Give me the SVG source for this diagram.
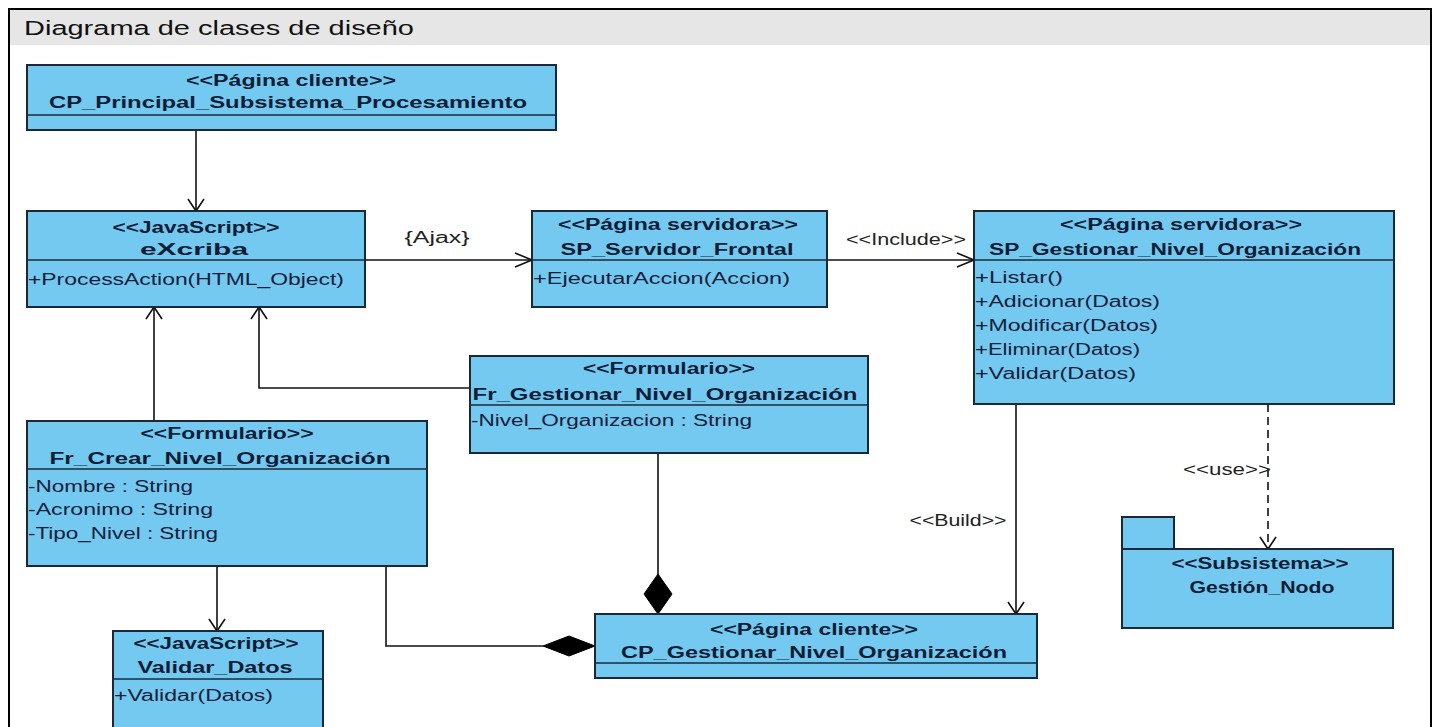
<svg xmlns="http://www.w3.org/2000/svg" width="1438" height="727" viewBox="0 0 1438 727">
  <style>
    .cls { fill: #74c9f1; stroke: #1b2838; stroke-width: 2; }
    .sep { stroke: #1b2838; stroke-width: 1.6; fill: none; }
    .st { font-family: "Liberation Sans", Arial, sans-serif; font-size: 16px; font-weight: bold; fill: #0e1d36; text-anchor: middle; }
    .mem { font-family: "Liberation Sans", Arial, sans-serif; font-size: 16px; fill: #14203a; }
    .lbl { font-family: "Liberation Sans", Arial, sans-serif; font-size: 16px; fill: #222; text-anchor: middle; }
    .edge { stroke: #111; stroke-width: 1.6; fill: none; }
    .dash { stroke: #111; stroke-width: 1.6; fill: none; stroke-dasharray: 8 5; }
    .head { stroke: #111; stroke-width: 1.6; fill: none; }
    .dia { fill: #000; stroke: #000; stroke-width: 1; }
  </style>

  <!-- frame -->
  <rect x="0" y="0" width="1438" height="727" fill="#fff"/>
  <rect x="9" y="9" width="1422" height="36" fill="#e6e6e6"/>
  <rect x="9" y="9" width="1422" height="740" fill="none" stroke="#000" stroke-width="2"/>
  <text x="24" y="35" font-family="Liberation Sans, Arial, sans-serif" font-size="20" fill="#111" textLength="390" lengthAdjust="spacingAndGlyphs">Diagrama de clases de diseño</text>

  <!-- connectors -->
  <g id="connectors">
    <!-- CP_Principal -> eXcriba -->
    <path class="edge" d="M196 130 V211"/>
    <polyline class="head" points="188,199 196,211 204,199"/>
    <!-- Fr_Crear -> eXcriba -->
    <path class="edge" d="M154 421 V307"/>
    <polyline class="head" points="146,319 154,307 162,319"/>
    <!-- Fr_Gestionar -> eXcriba -->
    <path class="edge" d="M470 388 H259 V307"/>
    <polyline class="head" points="251,319 259,307 267,319"/>
    <!-- eXcriba -> SP_Servidor_Frontal {Ajax} -->
    <path class="edge" d="M365 260 H532"/>
    <polyline class="head" points="515,253 532,260 515,267"/>
    <text class="lbl" x="437" y="243" textLength="65" lengthAdjust="spacingAndGlyphs">{Ajax}</text>
    <!-- SP_Servidor_Frontal -> SP_Gestionar <<Include>> -->
    <path class="edge" d="M827 260 H974"/>
    <polyline class="head" points="957,253 974,260 957,267"/>
    <text class="lbl" x="906" y="245" textLength="120" lengthAdjust="spacingAndGlyphs">&lt;&lt;Include&gt;&gt;</text>
    <!-- SP_Gestionar -> CP_Gestionar <<Build>> -->
    <path class="edge" d="M1016 404 V614"/>
    <polyline class="head" points="1008,602 1016,614 1024,602"/>
    <text class="lbl" x="958" y="526" textLength="97" lengthAdjust="spacingAndGlyphs">&lt;&lt;Build&gt;&gt;</text>
    <!-- SP_Gestionar -> Gestion_Nodo <<use>> -->
    <path class="dash" d="M1268 404 V549"/>
    <polyline class="head" points="1260,537 1268,549 1276,537"/>
    <text class="lbl" x="1227" y="475" textLength="88" lengthAdjust="spacingAndGlyphs">&lt;&lt;use&gt;&gt;</text>
    <!-- Fr_Crear -> Validar_Datos -->
    <path class="edge" d="M217 566 V631"/>
    <polyline class="head" points="209,619 217,631 225,619"/>
    <!-- Fr_Crear composition CP_Gestionar -->
    <path class="edge" d="M386 566 V646 H543"/>
    <polygon class="dia" points="543,646 569,636 595,646 569,656"/>
    <!-- Fr_Gestionar composition CP_Gestionar -->
    <path class="edge" d="M658 453 V574"/>
    <polygon class="dia" points="658,574 672,594 658,614 644,594"/>
  </g>

  <g id="cp-principal">
    <rect class="cls" x="27" y="65" width="529" height="65"/>
    <line class="sep" x1="27" y1="115" x2="556" y2="115"/>
    <text class="st" x="291" y="86" textLength="210" lengthAdjust="spacingAndGlyphs">&lt;&lt;Página cliente&gt;&gt;</text>
    <text class="st" x="288" y="108" textLength="478" lengthAdjust="spacingAndGlyphs">CP_Principal_Subsistema_Procesamiento</text>
  </g>

  <g id="excriba">
    <rect class="cls" x="27" y="211" width="338" height="96"/>
    <line class="sep" x1="27" y1="260" x2="365" y2="260"/>
    <text class="st" x="196" y="233" textLength="167" lengthAdjust="spacingAndGlyphs">&lt;&lt;JavaScript&gt;&gt;</text>
    <text class="st" x="194" y="255" textLength="108" lengthAdjust="spacingAndGlyphs">eXcriba</text>
    <text class="mem" x="28" y="285" textLength="316" lengthAdjust="spacingAndGlyphs">+ProcessAction(HTML_Object)</text>
  </g>

  <g id="sp-servidor-frontal">
    <rect class="cls" x="532" y="211" width="295" height="96"/>
    <line class="sep" x1="532" y1="260" x2="827" y2="260"/>
    <text class="st" x="678" y="230" textLength="240" lengthAdjust="spacingAndGlyphs">&lt;&lt;Página servidora&gt;&gt;</text>
    <text class="st" x="677" y="255" textLength="233" lengthAdjust="spacingAndGlyphs">SP_Servidor_Frontal</text>
    <text class="mem" x="533" y="284" textLength="257" lengthAdjust="spacingAndGlyphs">+EjecutarAccion(Accion)</text>
  </g>

  <g id="sp-gestionar">
    <rect class="cls" x="974" y="211" width="420" height="193"/>
    <line class="sep" x1="974" y1="260" x2="1394" y2="260"/>
    <text class="st" x="1181" y="230" textLength="242" lengthAdjust="spacingAndGlyphs">&lt;&lt;Página servidora&gt;&gt;</text>
    <text class="st" x="1175" y="255" textLength="372" lengthAdjust="spacingAndGlyphs">SP_Gestionar_Nivel_Organización</text>
    <text class="mem" x="975" y="283" textLength="88" lengthAdjust="spacingAndGlyphs">+Listar()</text>
    <text class="mem" x="975" y="307" textLength="185" lengthAdjust="spacingAndGlyphs">+Adicionar(Datos)</text>
    <text class="mem" x="975" y="331" textLength="183" lengthAdjust="spacingAndGlyphs">+Modificar(Datos)</text>
    <text class="mem" x="975" y="355" textLength="165" lengthAdjust="spacingAndGlyphs">+Eliminar(Datos)</text>
    <text class="mem" x="975" y="379" textLength="161" lengthAdjust="spacingAndGlyphs">+Validar(Datos)</text>
  </g>

  <g id="fr-gestionar">
    <rect class="cls" x="470" y="356" width="398" height="97"/>
    <line class="sep" x1="470" y1="405" x2="868" y2="405"/>
    <text class="st" x="669" y="374" textLength="172" lengthAdjust="spacingAndGlyphs">&lt;&lt;Formulario&gt;&gt;</text>
    <text class="st" x="665" y="400" textLength="385" lengthAdjust="spacingAndGlyphs">Fr_Gestionar_Nivel_Organización</text>
    <text class="mem" x="471" y="426" textLength="281" lengthAdjust="spacingAndGlyphs">-Nivel_Organizacion : String</text>
  </g>

  <g id="fr-crear">
    <rect class="cls" x="27" y="421" width="400" height="145"/>
    <line class="sep" x1="27" y1="469" x2="427" y2="469"/>
    <text class="st" x="227" y="439" textLength="173" lengthAdjust="spacingAndGlyphs">&lt;&lt;Formulario&gt;&gt;</text>
    <text class="st" x="220" y="464" textLength="341" lengthAdjust="spacingAndGlyphs">Fr_Crear_Nivel_Organización</text>
    <text class="mem" x="28" y="492" textLength="165" lengthAdjust="spacingAndGlyphs">-Nombre : String</text>
    <text class="mem" x="28" y="515" textLength="185" lengthAdjust="spacingAndGlyphs">-Acronimo : String</text>
    <text class="mem" x="28" y="539" textLength="190" lengthAdjust="spacingAndGlyphs">-Tipo_Nivel : String</text>
  </g>

  <g id="validar-datos">
    <rect class="cls" x="113" y="631" width="210" height="110"/>
    <line class="sep" x1="113" y1="679" x2="323" y2="679"/>
    <text class="st" x="216" y="649" textLength="165" lengthAdjust="spacingAndGlyphs">&lt;&lt;JavaScript&gt;&gt;</text>
    <text class="st" x="215" y="673" textLength="155" lengthAdjust="spacingAndGlyphs">Validar_Datos</text>
    <text class="mem" x="114" y="701" textLength="159" lengthAdjust="spacingAndGlyphs">+Validar(Datos)</text>
  </g>

  <g id="cp-gestionar">
    <rect class="cls" x="595" y="614" width="442" height="64"/>
    <line class="sep" x1="595" y1="663" x2="1037" y2="663"/>
    <text class="st" x="814" y="635" textLength="208" lengthAdjust="spacingAndGlyphs">&lt;&lt;Página cliente&gt;&gt;</text>
    <text class="st" x="814" y="658" textLength="386" lengthAdjust="spacingAndGlyphs">CP_Gestionar_Nivel_Organización</text>
  </g>

  <g id="gestion-nodo">
    <rect class="cls" x="1122" y="517" width="52" height="32"/>
    <rect class="cls" x="1122" y="549" width="271" height="79"/>
    <text class="st" x="1260" y="569" textLength="177" lengthAdjust="spacingAndGlyphs">&lt;&lt;Subsistema&gt;&gt;</text>
    <text class="st" x="1262" y="593" textLength="145" lengthAdjust="spacingAndGlyphs">Gestión_Nodo</text>
  </g>
</svg>
